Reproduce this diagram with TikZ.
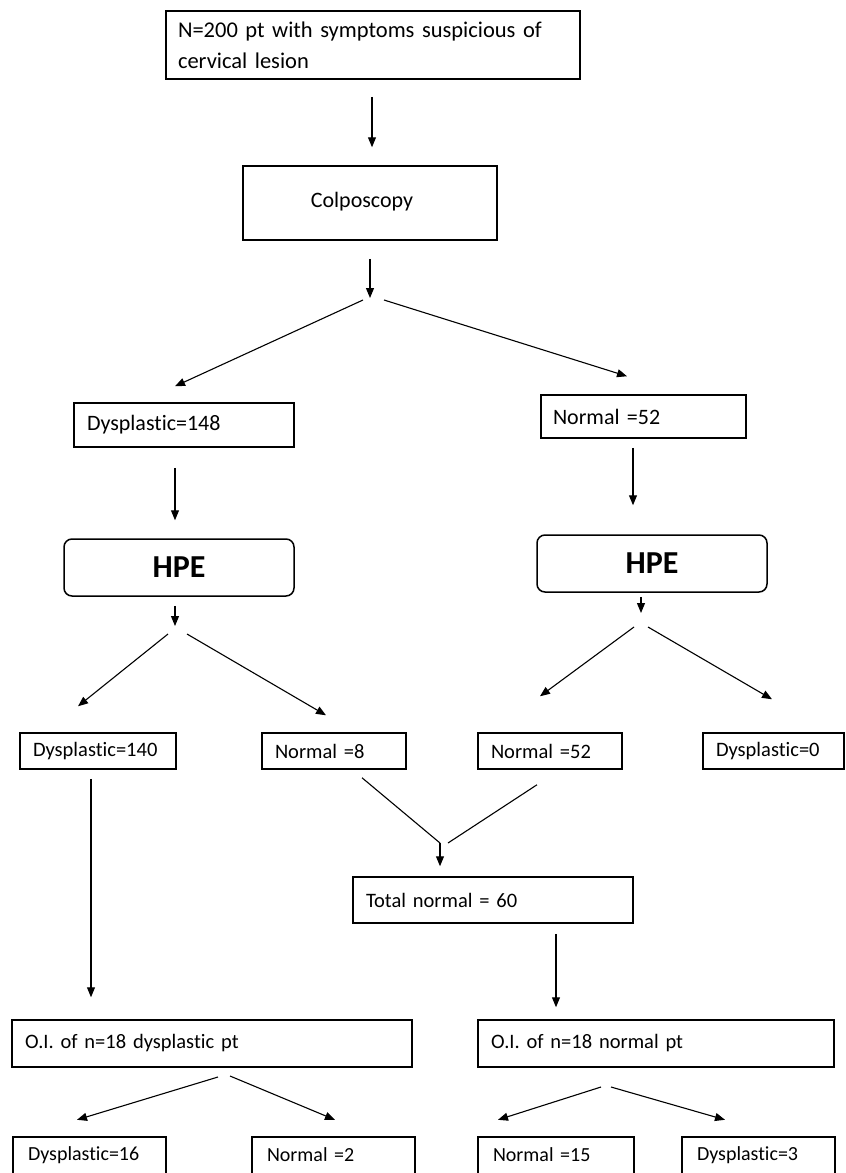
\documentclass[tikz,border=0pt]{standalone}
\usepackage{fontspec}
\setmainfont{Carlito}[Ligatures=NoCommon]
\usetikzlibrary{arrows.meta,calc}
\begin{document}
\begin{tikzpicture}[x=1pt,y=-1pt,
  box/.style={draw, line width=1.5pt, inner xsep=13pt, inner ysep=0pt, font=\fontsize{20.5}{24}\selectfont, align=left},
  bigtext/.style={font=\fontsize{22}{26}\selectfont},
  hpe/.style={draw, line width=1.5pt, rounded corners=8pt, font=\bfseries\fontsize{32}{36}\selectfont, align=center, inner sep=0pt},
  openbox/.style={inner xsep=15pt, inner ysep=0pt, font=\fontsize{20}{24}\selectfont, align=left},
  arr/.style={line width=1.1pt, -{Triangle[length=10pt,width=8pt]}},
  ln/.style={line width=1.1pt},
  side/.style={line width=1.5pt}
]
\useasboundingbox[fill=white] (0,0) rectangle (846,1173);

% nodes
\node[box, minimum width=414pt, minimum height=68pt, text width=390pt, inner xsep=12pt, font=\fontsize{22.5}{31}\selectfont] (T) at (373,45) {N=200 pt with symptoms suspicious of\\cervical lesion};
\node[box, bigtext, minimum width=254pt, minimum height=74pt, text width=228pt, align=center] (C) at (370,203) {\hspace*{-16pt}\raisebox{6pt}{Colposcopy}};
\node[box, bigtext, minimum width=220pt, minimum height=44pt, text width=194pt] (D148) at (184,425) {Dysplastic=148};
\node[box, bigtext, minimum width=205pt, minimum height=43pt, text width=181pt, inner xsep=12pt] (N52) at (643.5,416.5) {Normal =52};
\node[hpe, minimum width=230pt, minimum height=57pt] (H1) at (179,567.5) {HPE};
\node[hpe, minimum width=230pt, minimum height=57pt] (H2) at (652,563.5) {HPE};
\node[box, minimum width=156pt, minimum height=36pt, text width=130pt] (D140) at (98,751) {Dysplastic=140};
\node[box, minimum width=144pt, minimum height=36pt, text width=118pt] (N8) at (334,751) {Normal =8};
\node[box, minimum width=144pt, minimum height=36pt, text width=118pt] (N52b) at (550,751) {Normal =52};
\node[box, minimum width=141pt, minimum height=36pt, text width=115pt] (D0) at (773.5,751) {Dysplastic=0};
\node[box, minimum width=280pt, minimum height=46pt, text width=254pt] (TN) at (493,900) {Total normal = 60};
\node[box, minimum width=400pt, minimum height=47pt, text width=374pt] (OI1) at (212,1043.5) {O.I. of n=18 dysplastic pt};
\node[box, minimum width=356pt, minimum height=47pt, text width=330pt] (OI2) at (656,1043.5) {O.I. of n=18 normal pt};
\node[openbox, minimum width=153pt, minimum height=36pt, text width=123pt] (B1) at (89.5,1155) {Dysplastic=16};
\node[openbox, minimum width=163pt, minimum height=36pt, text width=133pt] (B2) at (333.5,1155) {Normal =2};
\node[openbox, minimum width=156pt, minimum height=36pt, text width=126pt] (B3) at (556,1155) {Normal =15};
\node[openbox, minimum width=153pt, minimum height=36pt, text width=123pt] (B4) at (758.5,1155) {Dysplastic=3};
\foreach \b in {B1,B2,B3,B4}
  \draw[side] (\b.south west) |- (\b.north east) -- (\b.south east);

% split points
\coordinate (s1) at (370,298);
\coordinate (s2) at (175,626);
\coordinate (s3) at (641,613);
\coordinate (m) at (440,843);
\coordinate (s4) at (224,1077);
\coordinate (s5) at (606,1087);

% connectors
\draw[arr] ($(T.south)+(-1,17)$) -- ($(C.north)+(2,-18)$);
\draw[arr] ($(C.south)+(0,18)$) -- (s1);
\draw[arr] ($(s1)+(-7,2)$) -- ($(D148.north)+(-9,-16)$);
\draw[arr] ($(s1)+(14,2)$) -- ($(N52.north)+(-16.5,-18)$);
\draw[arr] ($(D148.south)+(-9,20)$) -- ($(H1.north)+(-4,-18)$);
\draw[arr] ($(N52.south)+(-10.5,9)$) -- ($(H2.north)+(-19,-29)$);
\draw[arr] ($(H1.south)+(-4,9)$) -- (s2);
\draw[arr] ($(s2)+(-7,8)$) -- ($(D140.north)+(-20,-26)$);
\draw[arr] ($(s2)+(12,8)$) -- ($(N8.north)+(-8,-17)$);
\draw[arr] ($(H2.south)+(-11,4)$) -- (s3);
\draw[arr] ($(s3)+(-7,14)$) -- ($(N52b.north)+(-10,-36)$);
\draw[arr] ($(s3)+(7,14)$) -- ($(D0.north)+(-1.5,-33)$);
\draw[ln] ($(N8.south)+(28,8)$) -- (m);
\draw[ln] ($(N52b.south)+(-13,15)$) -- ($(m)+(8,0)$);
\draw[arr] (m) -- ($(TN.north)+(-53,-10)$);
\draw[arr] ($(D140.south)+(-7,9)$) -- ($(OI1.north)+(-121,-22)$);
\draw[arr] ($(TN.south)+(63,10)$) -- ($(OI2.north)+(-100,-12)$);
\draw[arr] ($(s4)+(-6,0)$) -- ($(B1.north)+(-12.5,-17)$);
\draw[arr] ($(s4)+(6,-1)$) -- ($(B2.north)+(1.5,-17)$);
\draw[arr] ($(s5)+(-5,0)$) -- ($(B3.north)+(-58,-17)$);
\draw[arr] ($(s5)+(5,0)$) -- ($(B4.north)+(-33.5,-17)$);
\end{tikzpicture}
\end{document}
